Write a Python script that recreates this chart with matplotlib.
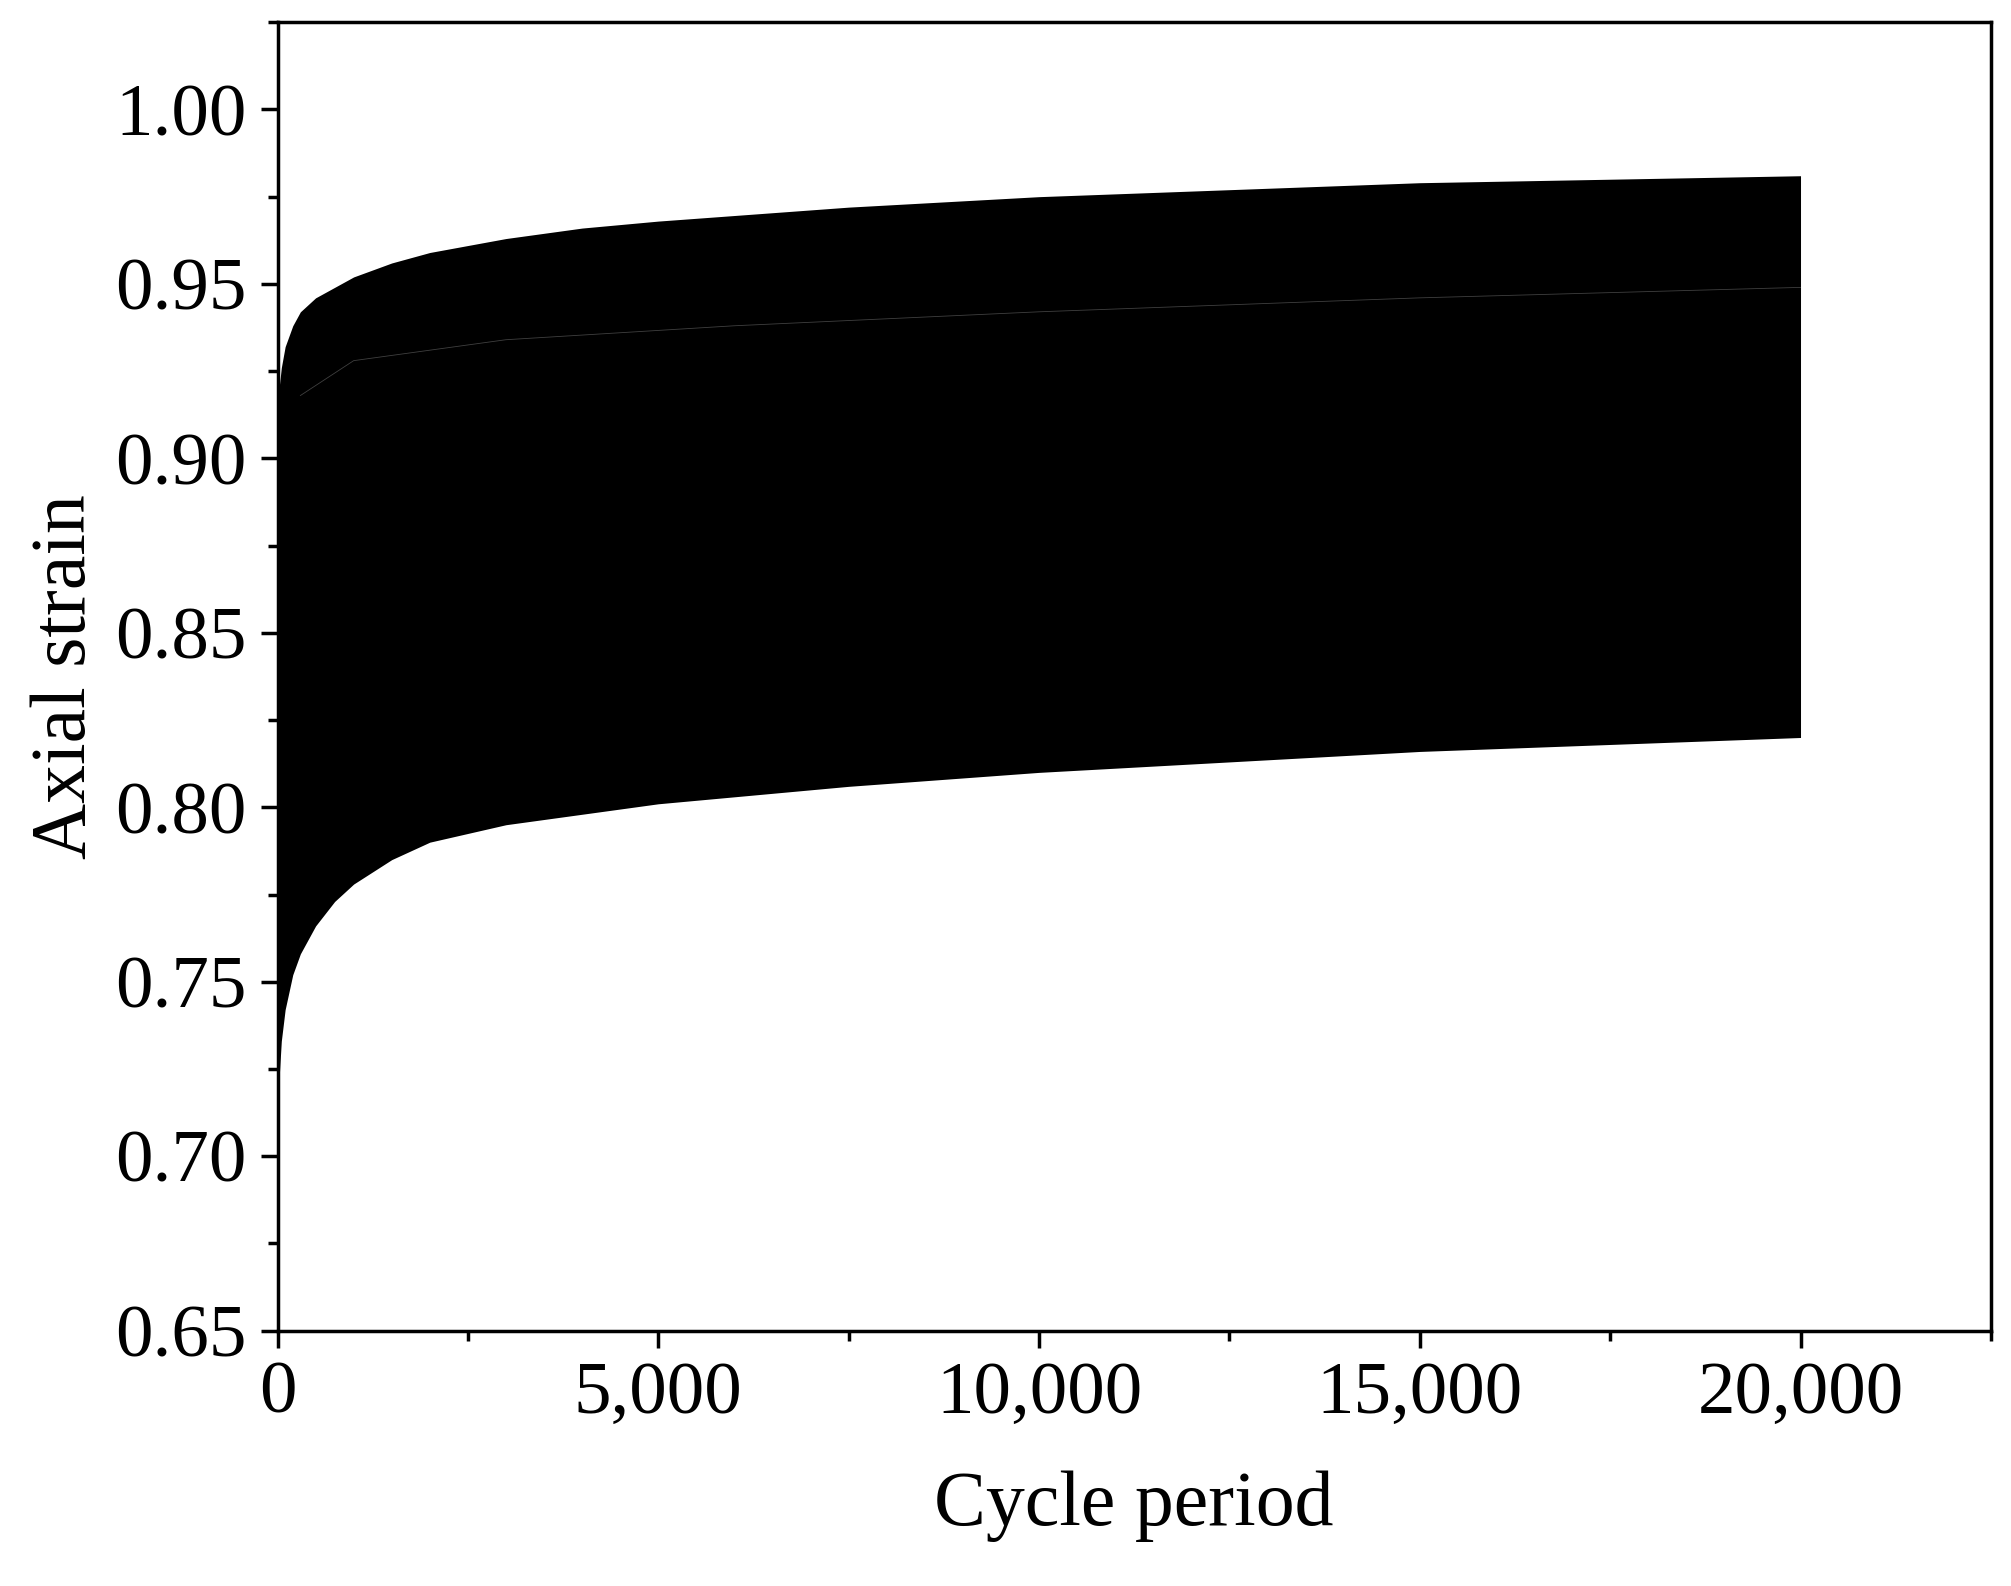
import matplotlib.pyplot as plt
from matplotlib.ticker import MultipleLocator, FuncFormatter

# envelope of the cyclic axial strain
cycles = [0, 20, 50, 100, 200, 300, 500, 750, 1000, 1500, 2000, 3000, 4000, 5000,
          7500, 10000, 12500, 15000, 17500, 20000]
upper = [0.915, 0.920, 0.926, 0.932, 0.938, 0.942, 0.946, 0.949, 0.952, 0.956, 0.959,
         0.963, 0.966, 0.968, 0.972, 0.975, 0.977, 0.979, 0.980, 0.981]
lower = [0.705, 0.722, 0.733, 0.742, 0.752, 0.758, 0.766, 0.773, 0.778, 0.785, 0.790,
         0.795, 0.798, 0.801, 0.806, 0.810, 0.813, 0.816, 0.818, 0.820]

# faint mid-level trace visible inside the band
mid_x = [300, 1000, 3000, 6000, 10000, 15000, 20000]
mid_y = [0.918, 0.928, 0.934, 0.938, 0.942, 0.946, 0.949]

plt.rcParams['font.family'] = ['Liberation Serif', 'DejaVu Serif']
fig = plt.figure(figsize=(20.11, 15.86), dpi=100, facecolor='white')
ax = fig.add_axes([0.138, 0.161, 0.852, 0.825])

ax.fill_between(cycles, lower, upper, color='black', linewidth=0)
ax.plot(mid_x, mid_y, color='white', linewidth=0.6, alpha=0.25)

ax.set_xlim(0, 22500)
ax.set_ylim(0.65, 1.025)
ax.xaxis.set_major_locator(MultipleLocator(5000))
ax.xaxis.set_minor_locator(MultipleLocator(2500))
ax.yaxis.set_major_locator(MultipleLocator(0.05))
ax.yaxis.set_minor_locator(MultipleLocator(0.025))
ax.xaxis.set_major_formatter(FuncFormatter(lambda v, p: f'{int(v):,}'))
ax.yaxis.set_major_formatter(FuncFormatter(lambda v, p: f'{v:.2f}'))

ax.tick_params(which='major', direction='out', length=12, width=2.5, labelsize=54, pad=10)
ax.tick_params(which='minor', direction='out', length=7, width=2.5)
for s in ax.spines.values():
    s.set_linewidth(2.5)

ax.set_xlabel('Cycle period', fontsize=56, labelpad=30)
ax.set_ylabel('Axial strain', fontsize=56, labelpad=10)

fig.savefig('out.png', dpi=100)
plt.close()
